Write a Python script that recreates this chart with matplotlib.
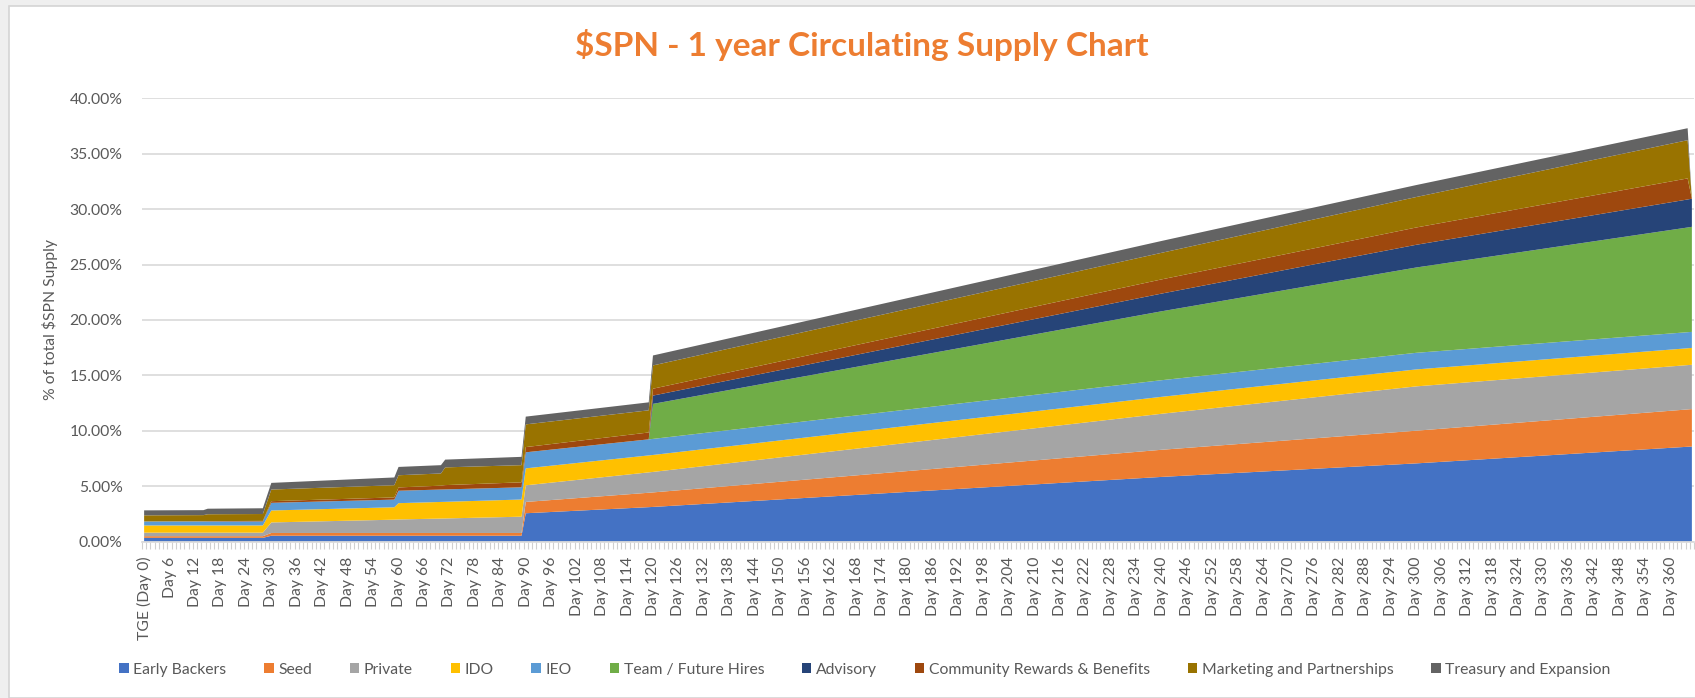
import matplotlib
matplotlib.use("Agg")
import matplotlib.pyplot as plt
from matplotlib.patches import Rectangle
from matplotlib.ticker import FuncFormatter, FixedLocator

plt.rcParams['font.family'] = ['Lato', 'DejaVu Sans']

# knot days (values between knots are straight lines, as in the source chart)
days = [0, 14, 15, 28, 30, 59, 60, 70, 71, 89, 90, 119, 120, 240, 300, 364, 365]

# % of total supply for each allocation at the knot days
early_backers = [0.33, 0.33, 0.33, 0.33, 0.52, 0.52, 0.52, 0.52, 0.52, 0.52, 2.55, 3.10, 3.12, 5.83, 7.05, 8.55, 8.57]
seed = [0.15, 0.15, 0.15, 0.15, 0.25, 0.25, 0.25, 0.25, 0.25, 0.25, 1.02, 1.30, 1.31, 2.45, 2.95, 3.37, 3.38]
private = [0.32, 0.32, 0.32, 0.32, 0.95, 1.20, 1.22, 1.30, 1.31, 1.47, 1.50, 1.84, 1.85, 3.25, 4.00, 4.00, 4.00]
ido = [0.65, 0.65, 0.65, 0.65, 1.08, 1.12, 1.47, 1.50, 1.50, 1.55, 1.53, 1.53, 1.53, 1.53, 1.53, 1.52, 1.52]
ieo = [0.36, 0.36, 0.36, 0.36, 0.69, 0.69, 1.12, 1.12, 1.12, 1.10, 1.45, 1.45, 1.45, 1.50, 1.50, 1.45, 1.45]
team = [0, 0, 0, 0, 0, 0, 0, 0, 0, 0, 0, 0, 3.16, 6.22, 7.70, 9.45, 9.48]
advisory = [0, 0, 0, 0, 0, 0, 0, 0, 0, 0, 0, 0, 0.75, 1.60, 2.05, 2.53, 2.54]
community = [0.00, 0.02, 0.03, 0.05, 0.15, 0.20, 0.30, 0.35, 0.39, 0.45, 0.47, 0.62, 0.62, 1.28, 1.56, 1.90, 0]
marketing = [0.55, 0.55, 0.62, 0.62, 1.05, 1.10, 1.10, 1.10, 1.60, 1.55, 2.05, 2.00, 2.10, 2.40, 2.75, 3.45, 0]
treasury = [0.45, 0.45, 0.50, 0.52, 0.60, 0.70, 0.75, 0.75, 0.70, 0.75, 0.70, 0.72, 0.90, 1.07, 1.08, 1.08, 0]

names = ['Early Backers', 'Seed', 'Private', 'IDO', 'IEO', 'Team / Future Hires', 'Advisory',
         'Community Rewards & Benefits', 'Marketing and Partnerships', 'Treasury and Expansion']
colors = ['#4472C4', '#ED7D31', '#A5A5A5', '#FFC000', '#5B9BD5', '#70AD47', '#264478',
          '#9E480E', '#997300', '#636363']

tick_days = list(range(0, 361, 6))
tick_labels = ['TGE (Day 0)'] + ['Day %d' % d for d in tick_days[1:]]

W, H = 1695, 698
fig = plt.figure(figsize=(W / 100, H / 100), dpi=100)
fig.patch.set_facecolor('#efefef')
fig.patches.append(Rectangle((9 / W, 0), 1, (H - 6) / H, transform=fig.transFigure,
                             facecolor='white', edgecolor='#d4d4d4', linewidth=1.2, zorder=-1))

ax = fig.add_axes([142 / W, (H - 541.5) / H, 1552 / W, 443.2 / H])
ax.set_facecolor('none')

ax.stackplot(days, early_backers, seed, private, ido, ieo, team, advisory, community,
             marketing, treasury, labels=names, colors=colors, linewidth=0, zorder=2)

ax.set_xlim(-0.5, 365.5)
ax.set_ylim(0, 40)
ax.set_yticks(range(0, 41, 5))
ax.yaxis.set_major_formatter(FuncFormatter(lambda v, p: '%.2f%%' % v))
ax.grid(axis='y', color='#d9d9d9', linewidth=1.2, zorder=0)
ax.set_axisbelow(True)

ax.set_xticks(tick_days)
ax.set_xticklabels(tick_labels, rotation=90)
ax.xaxis.set_minor_locator(FixedLocator([k - 0.5 for k in range(367)]))
ax.tick_params(axis='x', which='major', length=0, pad=11, labelsize=11.3, labelcolor='#595959')
ax.tick_params(axis='x', which='minor', length=5, width=0.8, color='#d0d0d0')
ax.tick_params(axis='y', length=0, pad=14, labelsize=11.3, labelcolor='#595959')

for s in ['top', 'right', 'left']:
    ax.spines[s].set_visible(False)
ax.spines['bottom'].set_color('#d9d9d9')
ax.spines['bottom'].set_linewidth(1.2)

fig.text(862 / W, 1 - 45 / H, '$SPN - 1 year Circulating Supply Chart', ha='center', va='center',
         fontsize=24, fontweight='bold', color='#ED7D31')
fig.text(50 / W, 1 - 320 / H, '% of total $SPN Supply', ha='center', va='center', rotation=90,
         fontsize=11.3, color='#595959')

handles, labels = ax.get_legend_handles_labels()
leg = fig.legend(handles, labels, loc='center', bbox_to_anchor=(865 / W, (H - 670) / H), ncol=10,
                 frameon=False, fontsize=11.3, handlelength=0.6, handleheight=0.6,
                 handletextpad=0.3, columnspacing=2.4)
for t in leg.get_texts():
    t.set_color('#595959')

fig.savefig('out.png', dpi=100, facecolor=fig.get_facecolor())
